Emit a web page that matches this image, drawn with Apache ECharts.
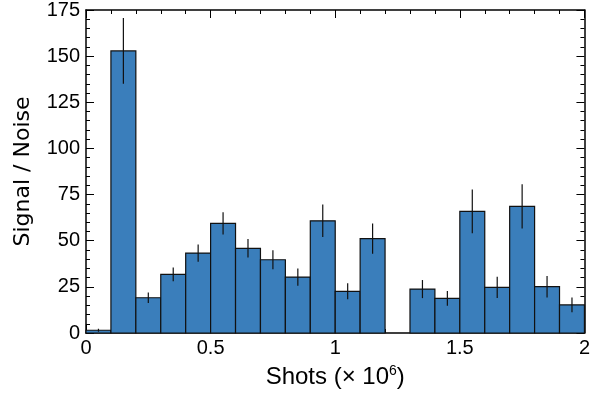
<!DOCTYPE html>
<html>
<head>
<meta charset="utf-8">
<script src="https://cdn.jsdelivr.net/npm/echarts@6/dist/echarts.min.js"></script>
<style>
  html, body { margin: 0; padding: 0; background: #fff; }
  #chart { width: 593px; height: 395px; }
</style>
</head>
<body>
<div id="chart"></div>
<script>
// bin edges (x 10^6 shots), 0.1 wide
const binStart = [0, 0.1, 0.2, 0.3, 0.4, 0.5, 0.6, 0.7, 0.8, 0.9, 1.0, 1.1, 1.2, 1.3, 1.4, 1.5, 1.6, 1.7, 1.8, 1.9];
const binWidth = 0.1;
// signal / noise per bin
const snr = [1.5, 152.8, 19.1, 31.8, 43.3, 59.4, 45.9, 39.7, 30.3, 60.8, 22.6, 51.1, 0, 23.8, 18.8, 65.9, 24.7, 68.6, 25.1, 15.2];
// error bar half-heights
const snrErr = [0.8, 17.8, 2.8, 3.7, 4.7, 6.0, 5.0, 5.2, 4.7, 8.8, 4.3, 8.2, 0, 4.9, 4.0, 11.8, 5.8, 12.0, 5.8, 4.0];

const font = '"Liberation Sans", Arial, Helvetica, sans-serif';
const yNameFont = '"DejaVu Sans", Verdana, sans-serif';

const barData = binStart.map((x, i) => [x, x + binWidth, snr[i]]);
const errData = binStart.map((x, i) => [x + binWidth / 2, snr[i] - snrErr[i], snr[i] + snrErr[i]]);

const chart = echarts.init(document.getElementById('chart'));

// ticks pointing into the plot on every side
const tickCommon = () => ({
    axisLine: { show: true, onZero: false, lineStyle: { color: '#000', width: 1.5 } },
    axisTick: { show: true, inside: true, length: 8, lineStyle: { color: '#000', width: 1 } },
    minorTick: { show: true, splitNumber: 5, length: 4, lineStyle: { color: '#000', width: 1 } },
    splitLine: { show: false }
});

chart.setOption({
    animation: false,
    grid: { left: 86, right: 5, top: 10, bottom: 62 },
    xAxis: [
        Object.assign({
            type: 'value', min: 0, max: 2, interval: 0.5, position: 'bottom',
            name: '{a|Shots (× 10}{s|6}{a|)}',
            nameLocation: 'middle', nameGap: 31,
            nameTextStyle: {
                rich: {
                    a: { fontFamily: font, fontSize: 24, color: '#000' },
                    s: { fontFamily: font, fontSize: 14, color: '#000', verticalAlign: 'top', padding: [0, 0, 12, 0] }
                }
            },
            axisLabel: { fontFamily: font, fontSize: 20, color: '#000', margin: 5 }
        }, tickCommon()),
        Object.assign({
            type: 'value', min: 0, max: 2, interval: 0.5, position: 'top',
            axisLabel: { show: false }
        }, tickCommon())
    ],
    yAxis: [
        Object.assign({
            type: 'value', min: 0, max: 175, interval: 25, position: 'left',
            name: 'Signal / Noise',
            nameLocation: 'middle', nameGap: 52,
            nameTextStyle: { fontFamily: yNameFont, fontSize: 22, color: '#000' },
            axisLabel: { fontFamily: font, fontSize: 20, color: '#000', margin: 6 }
        }, tickCommon()),
        Object.assign({
            type: 'value', min: 0, max: 175, interval: 25, position: 'right',
            axisLabel: { show: false }
        }, tickCommon())
    ],
    series: [
        {
            type: 'custom',
            xAxisIndex: 0, yAxisIndex: 0,
            data: barData,
            renderItem: (params, api) => {
                if (api.value(2) <= 0) return null;
                const p0 = api.coord([api.value(0), 0]);
                const p1 = api.coord([api.value(1), api.value(2)]);
                return {
                    type: 'rect',
                    shape: { x: p0[0], y: p1[1], width: p1[0] - p0[0], height: p0[1] - p1[1] },
                    style: { fill: '#3a7ebb', stroke: '#111', lineWidth: 1.2 }
                };
            },
            z: 2
        },
        {
            // error bars, on the mirrored axes (same scale) so those axes are drawn
            type: 'custom',
            xAxisIndex: 1, yAxisIndex: 1,
            data: errData,
            renderItem: (params, api) => {
                if (api.value(2) <= 0) return null;
                const lo = api.coord([api.value(0), api.value(1)]);
                const hi = api.coord([api.value(0), api.value(2)]);
                return {
                    type: 'line',
                    shape: { x1: lo[0], y1: lo[1], x2: hi[0], y2: hi[1] },
                    style: { stroke: '#111', lineWidth: 1.2 }
                };
            },
            z: 3
        }
    ]
});
</script>
</body>
</html>
